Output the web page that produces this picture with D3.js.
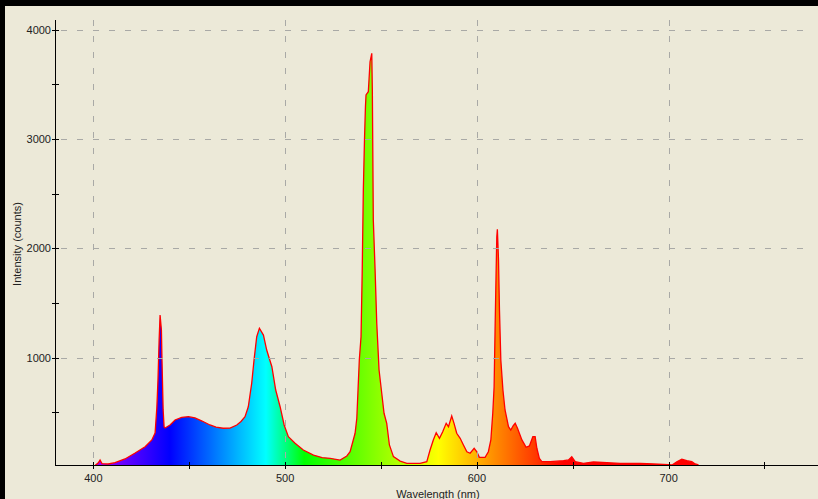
<!DOCTYPE html>
<html>
<head>
<meta charset="utf-8">
<script src="https://cdn.jsdelivr.net/npm/d3@7"></script>
<style>
body { margin: 0; background: #000; }
svg { display: block; }
</style>
</head>
<body>
<svg id="svg1" width="818" height="499"></svg>
<script>
// spectrum (nm, counts)
var wavelength = [401, 402.5, 403.5, 404.5, 407.7, 411.3, 416.5, 421.8, 427.0, 430.5, 432.2, 433.1, 433.7, 434.3, 434.8, 435.5, 435.8, 436.4, 436.9, 437.4,
  440.0, 442.6, 446.1, 449.6, 453.0, 456.7, 460.8, 464.0, 467.7, 471.3, 474.8, 477.0, 479.1, 480.8, 482.6, 483.8, 485.2, 486.6, 488.7, 490.4,
  493.1, 495.1, 497.4, 499.5, 501.7, 505.2, 509.5, 514.8, 519.3, 523.5, 528.7, 532.2, 533.9, 536.5, 537.4, 538.7, 539.6, 540.2, 540.8, 541.4,
  541.9, 542.2, 543.4, 544.3, 545.2, 545.5, 546.0, 546.9, 547.8, 549.0, 550.4, 551.6, 553.0, 554.4, 556.5, 560.0, 563.5, 570.4, 573.9, 575.6,
  577.3, 578.8, 580.5, 582.2, 584.0, 585.2, 586.9, 588.1, 589.5, 591.3, 593.0, 594.8, 596.5, 598.6, 600.0, 601.3, 604.3, 606.0, 607.3, 608.3,
  609.0, 609.5, 610.0, 610.4, 610.7, 611.3, 611.8, 612.5, 613.6, 614.7, 616.5, 617.7, 618.9, 620.0, 621.2, 623.5, 625.7, 627.4, 629.2, 630.4,
  631.3, 632.6, 633.9, 638.2, 645.2, 647.8, 649.5, 651.3, 655.6, 660.8, 667.8, 674.7, 685.2, 692.1, 699.9, 701.8, 704.3, 706.9, 709.5, 712.1,
  713.9, 715.6];
var counts = [15, 36, 63, 31, 27, 39, 73, 128, 185, 247, 311, 539, 796, 1162, 1390, 1253, 979, 522, 365, 356,
  384, 430, 454, 460, 448, 420, 384, 365, 354, 356, 384, 416, 460, 551, 768, 979, 1192, 1269, 1207, 1070,
  917, 704, 551, 384, 277, 216, 155, 109, 86, 79, 63, 100, 139, 308, 445, 979, 1192, 1772, 2534, 2992,
  3297, 3404, 3434, 3708, 3785, 3449, 2260, 1818, 1314, 887, 674, 491, 399, 201, 94, 54, 33, 33, 48, 155,
  247, 313, 262, 322, 399, 368, 466, 399, 308, 262, 201, 139, 125, 171, 139, 88, 88, 139, 247, 491,
  734, 1253, 1741, 2107, 2175, 1894, 1436, 979, 704, 521, 368, 338, 375, 399, 354, 247, 180, 192, 277, 277,
  171, 79, 48, 48, 57, 64, 94, 48, 33, 45, 39, 33, 33, 27, 20, 18, 48, 70, 57, 48,
  27, 18];

var xMajor = [400, 500, 600, 700];
var xMinor = [450, 550, 650, 750];
var yMajor = [1000, 2000, 3000, 4000];
var yMinor = [500, 1500, 2500, 3500];

var svg = d3.select("#svg1");

// window background + black frame at top / left
svg.append("rect").attr("x", 0).attr("y", 0).attr("width", 818).attr("height", 499).attr("fill", "#000");
svg.append("rect").attr("x", 5).attr("y", 6).attr("width", 813).attr("height", 493).attr("fill", "#ece9d8");

var x = d3.scaleLinear().domain([380, 780]).range([55, 822]);
var y = d3.scaleLinear().domain([15, 4090]).range([465.3, 20]);

// wavelength -> rgb (rough visible spectrum)
function wlColor(w) {
    var r = 0, g = 0, b = 0;
    if (w < 440) { r = (440 - w) / 60; b = 1; }
    else if (w < 490) { g = (w - 440) / 50; b = 1; }
    else if (w < 510) { g = 1; b = (510 - w) / 20; }
    else if (w < 580) { r = (w - 510) / 70; g = 1; }
    else if (w < 645) { r = 1; g = (645 - w) / 65; }
    else { r = 1; }
    return d3.rgb(r * 255, g * 255, b * 255).toString();
}

var grad = svg.append("defs").append("linearGradient")
    .attr("id", "spec")
    .attr("gradientUnits", "userSpaceOnUse")
    .attr("x1", x(380)).attr("x2", x(780))
    .attr("y1", 0).attr("y2", 0);

grad.selectAll("stop")
    .data(d3.range(380, 781, 5))
    .enter().append("stop")
    .attr("offset", function (d) { return (d - 380) / 400; })
    .attr("stop-color", function (d) { return wlColor(d); });

var pts = wavelength.map(function (w, i) { return [w, counts[i]]; });

var area = d3.area()
    .x(function (d) { return x(d[0]); })
    .y0(y(15))
    .y1(function (d) { return y(d[1]); });

var line = d3.line()
    .x(function (d) { return x(d[0]); })
    .y(function (d) { return y(d[1]); });

svg.append("path").datum(pts)
    .attr("d", area)
    .attr("fill", "url(#spec)");

svg.append("path").datum(pts)
    .attr("d", line)
    .attr("fill", "none")
    .attr("stroke", "#ff0000")
    .attr("stroke-width", 1.3)
    .attr("stroke-linejoin", "miter");

// dashed grid
svg.selectAll(".vgrid").data(xMajor).enter().append("line")
    .attr("x1", function (d) { return Math.round(x(d)) + 0.5; })
    .attr("x2", function (d) { return Math.round(x(d)) + 0.5; })
    .attr("y1", 20).attr("y2", 465)
    .attr("stroke", "#a9a9a6")
    .attr("stroke-dasharray", "6,10");

svg.selectAll(".hgrid").data(yMajor).enter().append("line")
    .attr("x1", 61).attr("x2", 812)
    .attr("y1", function (d) { return Math.round(y(d)) + 0.5; })
    .attr("y2", function (d) { return Math.round(y(d)) + 0.5; })
    .attr("stroke", "#a9a9a6")
    .attr("stroke-dasharray", "6,10");

// axes
var font = "'Liberation Sans', Tahoma, sans-serif";

svg.append("line").attr("x1", 55.5).attr("x2", 55.5).attr("y1", 20).attr("y2", 466).attr("stroke", "#000");
svg.append("line").attr("x1", 55).attr("x2", 818).attr("y1", 465.5).attr("y2", 465.5).attr("stroke", "#000");

svg.selectAll(".xt").data(xMajor.concat(xMinor)).enter().append("line")
    .attr("x1", function (d) { return Math.round(x(d)) + 0.5; })
    .attr("x2", function (d) { return Math.round(x(d)) + 0.5; })
    .attr("y1", 462).attr("y2", 469)
    .attr("stroke", "#000");

svg.selectAll(".yt").data(yMajor.concat(yMinor)).enter().append("line")
    .attr("x1", 52).attr("x2", 59)
    .attr("y1", function (d) { return Math.round(y(d)) + 0.5; })
    .attr("y2", function (d) { return Math.round(y(d)) + 0.5; })
    .attr("stroke", "#000");

svg.selectAll(".xl").data(xMajor).enter().append("text")
    .attr("x", function (d) { return x(d); })
    .attr("y", 482)
    .attr("text-anchor", "middle")
    .attr("font-family", font).attr("font-size", 11).attr("fill", "#222")
    .text(function (d) { return d; });

svg.selectAll(".yl").data(yMajor).enter().append("text")
    .attr("x", 51)
    .attr("y", function (d) { return y(d) + 4; })
    .attr("text-anchor", "end")
    .attr("font-family", font).attr("font-size", 11).attr("fill", "#222")
    .text(function (d) { return d; });

svg.append("text")
    .attr("x", 438).attr("y", 498)
    .attr("text-anchor", "middle")
    .attr("font-family", font).attr("font-size", 11).attr("fill", "#222")
    .text("Wavelength (nm)");

svg.append("text")
    .attr("transform", "translate(21,244) rotate(-90)")
    .attr("text-anchor", "middle")
    .attr("font-family", font).attr("font-size", 11).attr("fill", "#222")
    .text("Intensity (counts)");
</script>
</body>
</html>
